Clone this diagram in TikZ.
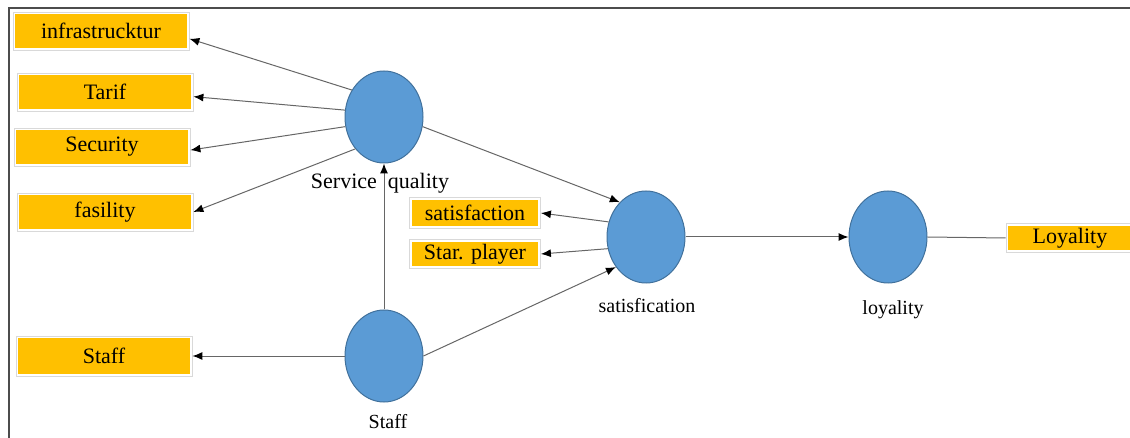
\documentclass[tikz,border=0pt]{standalone}
\usepackage{fontspec}
\setmainfont{Liberation Serif}
\usetikzlibrary{shapes.geometric, arrows.meta}
\definecolor{boxorange}{HTML}{FFC000}
\definecolor{blobblue}{HTML}{5B9BD5}
\definecolor{blobline}{HTML}{41719C}
\tikzset{
  item/.style={draw=black!15, fill=white, minimum width=88pt, minimum height=19pt, inner sep=0pt,
    font=\fontsize{11}{13}\selectfont,
    path picture={\fill[boxorange] ([shift={(1.2pt,1.2pt)}]path picture bounding box.south west)
      rectangle ([shift={(-1.2pt,-1.2pt)}]path picture bounding box.north east);}},
  blob/.style={ellipse, draw=blobline, fill=blobblue, line width=0.5pt, minimum width=39pt, minimum height=46pt, inner sep=0pt},
  tag/.style={font=\fontsize{10}{12}\selectfont},
  link/.style={draw=black!60, line width=0.5pt, -{Latex[length=5pt,width=4pt,color=black]}}
}

\begin{document}
\begin{tikzpicture}[x=0.5pt,y=-0.5pt]
\useasboundingbox (0,0) rectangle (1130,438);
\draw[black!70, line width=1pt] (9,438) -- (9,8) -- (1130,8);
% latent variables
\node[blob] (sq) at (384,117) {};
\node[tag, font=\fontsize{11}{13}\selectfont] (sqtag) at (380,183) {Service\ \ quality};
\node[blob] (staff) at (384,356) {};
\node[tag] (stafftag) at (388,422) {Staff};
\node[blob] (sat) at (646,237) {};
\node[tag] (sattag) at (647,306) {satisfication};
\node[blob] (loy) at (888,237) {};
\node[tag] (loytag) at (893,310) {loyality};
% indicators
\node[item] (infra) at (101,31) {infrastrucktur};
\node[item] (tarif) at (105,92) {Tarif};
\node[item] (secur) at (102,147) {Security};
\node[item] (fasil) at (105,212) {fasility};
\node[item, minimum height=20pt] (staffbox) at (104,356) {Staff};
\node[item, minimum width=65.5pt, minimum height=15.5pt] (satbox) at (475,213) {satisfaction};
\node[item, minimum width=65.5pt, minimum height=14.5pt] (starbox) at (475,254) {Star. player};
\node[item, minimum width=64pt, minimum height=14.5pt] (loybox) at (1070,238) {Loyality};
% paths
\draw[link] (sq.140) -- (infra.-5);
\draw[link] (sq.170) -- (tarif.-3);
\draw[link] (sq.194) -- (secur.-2);
\draw[link] (sq.228) -- (fasil.east);
\draw[link] (sq.346) -- (sat.127);
\draw[link] (staff.north) -- (sq.south);
\draw[link] (staff.west) -- (staffbox.east);
\draw[link] (staff.east) -- (sat.225);
\draw[link] (sat.158) -- (satbox.east);
\draw[link] (sat.197) -- (starbox.east);
\draw[link] (sat.east) -- (loy.west);
\draw[draw=black!60, line width=0.5pt] (loy.east) -- (loybox.west);
\end{tikzpicture}
\end{document}
